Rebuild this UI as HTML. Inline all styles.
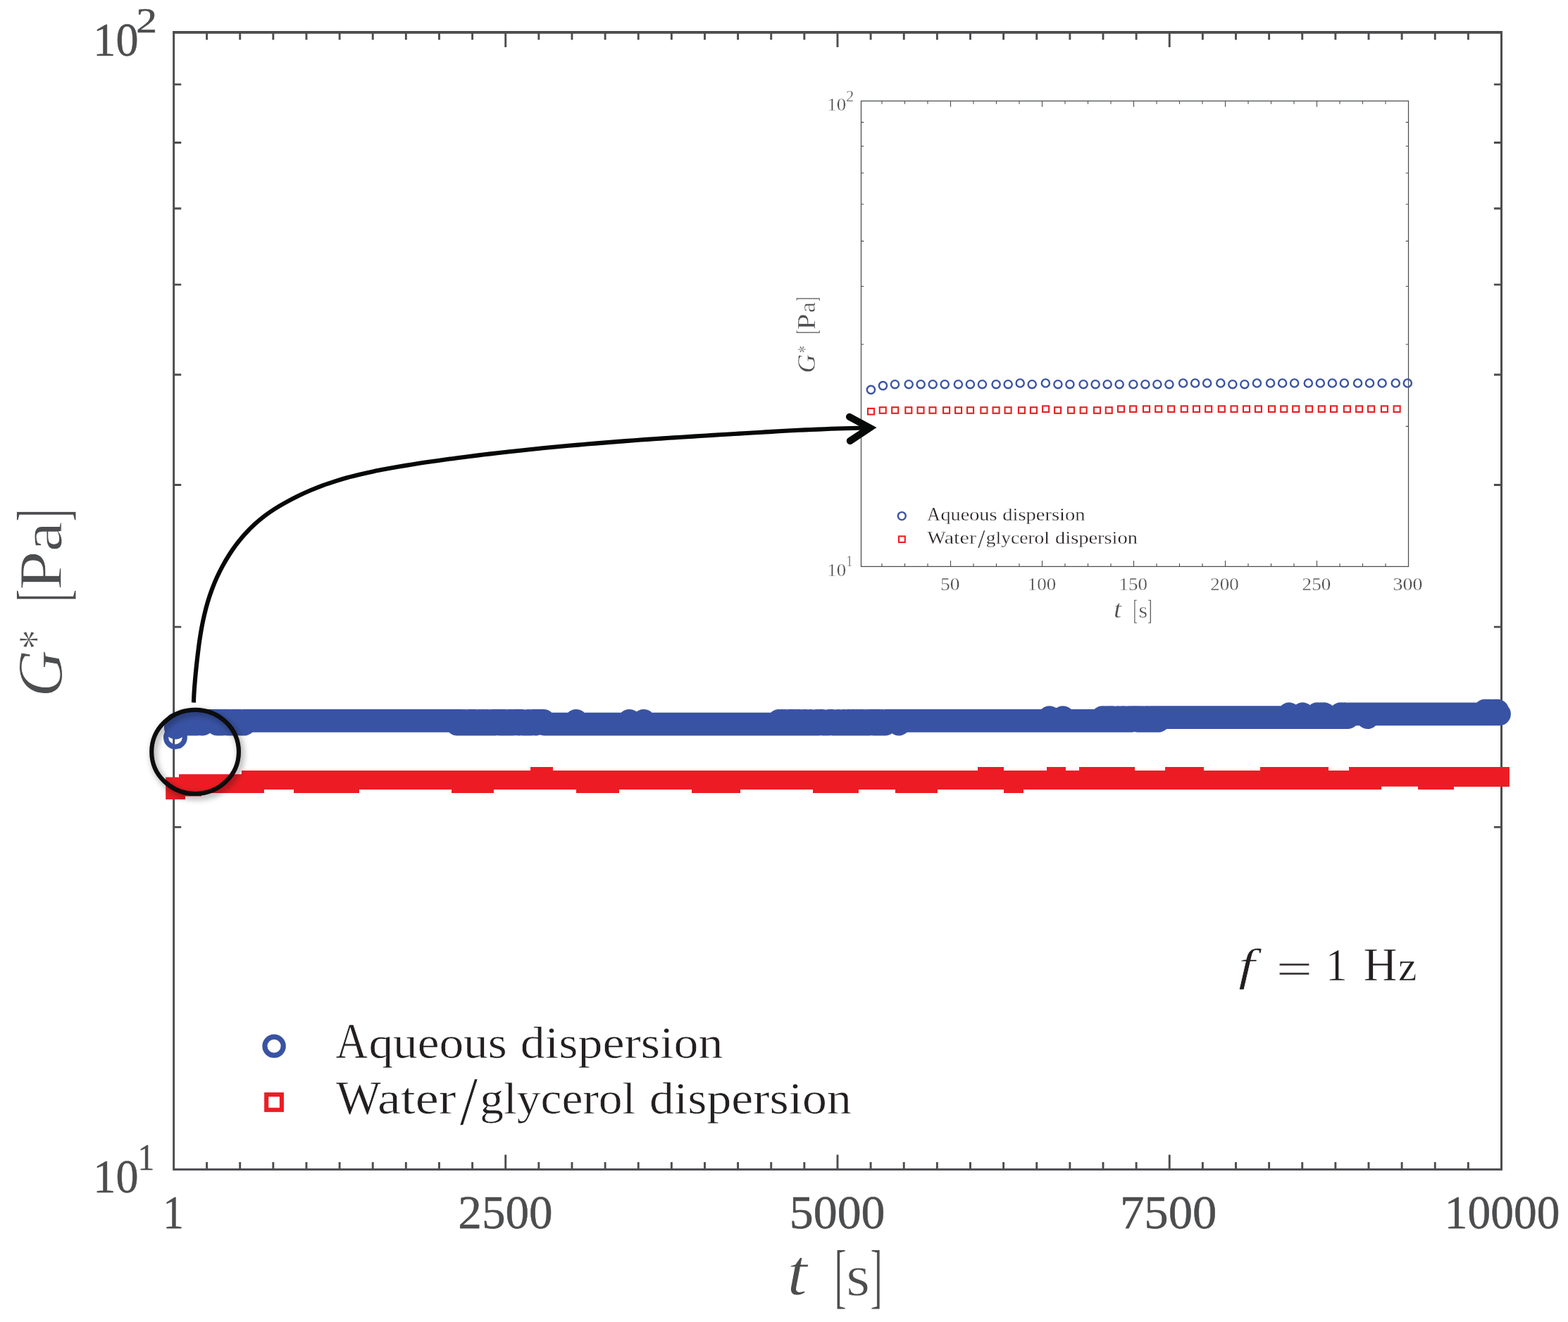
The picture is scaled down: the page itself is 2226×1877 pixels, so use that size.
<!DOCTYPE html>
<html lang="en">
<head>
<meta charset="utf-8">
<title>G* vs t</title>
<style>
html,body{margin:0;padding:0;background:#fff;}
body{width:2226px;height:1877px;overflow:hidden;}
svg{display:block;}
svg text{font-family:"Liberation Serif","DejaVu Serif",serif;font-kerning:none;font-variant-ligatures:none;white-space:pre;}
</style>
</head>
<body>
<svg width="2226" height="1877" viewBox="0 0 2226 1877">
<defs>
<filter id="sh" x="-30%" y="-30%" width="160%" height="160%">
<feGaussianBlur in="SourceAlpha" stdDeviation="5"/>
<feOffset dx="2.5" dy="3.5" result="b"/>
<feComponentTransfer><feFuncA type="linear" slope="0.43"/></feComponentTransfer>
<feMerge><feMergeNode/><feMergeNode in="SourceGraphic"/></feMerge>
</filter>
</defs>
<rect width="2226" height="1877" fill="#fff"/>
<g id="main-axes" fill="none" stroke="#4c4d4f" stroke-width="3">
<path stroke-width="2.9" d="M293.59 1660.4v-10.4M293.59 46v10.4M340.71 1660.4v-10.4M340.71 46v10.4M387.84 1660.4v-10.4M387.84 46v10.4M434.97 1660.4v-10.4M434.97 46v10.4M482.09 1660.4v-10.4M482.09 46v10.4M529.22 1660.4v-10.4M529.22 46v10.4M576.34 1660.4v-10.4M576.34 46v10.4M623.47 1660.4v-10.4M623.47 46v10.4M670.6 1660.4v-10.4M670.6 46v10.4M717.72 1660.4v-21M717.72 46v21M764.85 1660.4v-10.4M764.85 46v10.4M811.97 1660.4v-10.4M811.97 46v10.4M859.1 1660.4v-10.4M859.1 46v10.4M906.22 1660.4v-10.4M906.22 46v10.4M953.35 1660.4v-10.4M953.35 46v10.4M1000.48 1660.4v-10.4M1000.48 46v10.4M1047.6 1660.4v-10.4M1047.6 46v10.4M1094.73 1660.4v-10.4M1094.73 46v10.4M1141.85 1660.4v-10.4M1141.85 46v10.4M1188.98 1660.4v-21M1188.98 46v21M1236.11 1660.4v-10.4M1236.11 46v10.4M1283.23 1660.4v-10.4M1283.23 46v10.4M1330.36 1660.4v-10.4M1330.36 46v10.4M1377.48 1660.4v-10.4M1377.48 46v10.4M1424.61 1660.4v-10.4M1424.61 46v10.4M1471.74 1660.4v-10.4M1471.74 46v10.4M1518.86 1660.4v-10.4M1518.86 46v10.4M1565.99 1660.4v-10.4M1565.99 46v10.4M1613.11 1660.4v-10.4M1613.11 46v10.4M1660.24 1660.4v-21M1660.24 46v21M1707.37 1660.4v-10.4M1707.37 46v10.4M1754.49 1660.4v-10.4M1754.49 46v10.4M1801.62 1660.4v-10.4M1801.62 46v10.4M1848.74 1660.4v-10.4M1848.74 46v10.4M1895.87 1660.4v-10.4M1895.87 46v10.4M1943 1660.4v-10.4M1943 46v10.4M1990.12 1660.4v-10.4M1990.12 46v10.4M2037.25 1660.4v-10.4M2037.25 46v10.4M2084.37 1660.4v-10.4M2084.37 46v10.4M246.65 1174.42h10.6M2131.5 1174.42h-10.6M246.65 890.14h10.6M2131.5 890.14h-10.6M246.65 688.43h10.6M2131.5 688.43h-10.6M246.65 531.98h10.6M2131.5 531.98h-10.6M246.65 404.15h10.6M2131.5 404.15h-10.6M246.65 296.07h10.6M2131.5 296.07h-10.6M246.65 202.45h10.6M2131.5 202.45h-10.6M246.65 119.87h10.6M2131.5 119.87h-10.6"/>
<rect x="246.65" y="46" width="1884.85" height="1614.4"/>
<path stroke-width="3.8" d="M245.15 45.95H2133"/>
</g>
<g id="main-ticklabels">
<text stroke="#4c4d4f" stroke-width="0.5"><tspan x="231.46" y="1744" font-size="68.6" fill="#4c4d4f" textLength="29.26" lengthAdjust="spacingAndGlyphs">1</tspan></text>
<text stroke="#4c4d4f" stroke-width="0.5"><tspan x="650.35" y="1744" font-size="68.6" fill="#4c4d4f" textLength="134.31" lengthAdjust="spacingAndGlyphs">2500</tspan></text>
<text stroke="#4c4d4f" stroke-width="0.5"><tspan x="1120.75" y="1744" font-size="68.6" fill="#4c4d4f" textLength="135.83" lengthAdjust="spacingAndGlyphs">5000</tspan></text>
<text stroke="#4c4d4f" stroke-width="0.5"><tspan x="1589.97" y="1744" font-size="68.6" fill="#4c4d4f" textLength="137.45" lengthAdjust="spacingAndGlyphs">7500</tspan></text>
<text stroke="#4c4d4f" stroke-width="0.5"><tspan x="2050.85" y="1744" font-size="68.6" fill="#4c4d4f" textLength="163.65" lengthAdjust="spacingAndGlyphs">10000</tspan></text>
<text stroke="#4c4d4f" stroke-width="0.5"><tspan x="132.36" y="78.8" font-size="68.6" fill="#4c4d4f" textLength="64.19" lengthAdjust="spacingAndGlyphs">10</tspan><tspan x="193.38" y="45.8" font-size="51.2" fill="#4c4d4f" textLength="29.81" lengthAdjust="spacingAndGlyphs">2</tspan></text>
<text stroke="#4c4d4f" stroke-width="0.5"><tspan x="132.36" y="1693" font-size="68.6" fill="#4c4d4f" textLength="64.19" lengthAdjust="spacingAndGlyphs">10</tspan><tspan x="195.71" y="1661.1" font-size="51.81" fill="#4c4d4f" textLength="23.29" lengthAdjust="spacingAndGlyphs">1</tspan></text>
</g>
<g id="main-axislabels">
<text stroke="#fff" stroke-width="0.9"><tspan x="1117.62" y="1837.98" font-size="94.11" font-style="italic" fill="#4c4d4f" textLength="28.34" lengthAdjust="spacingAndGlyphs">t</tspan> <tspan x="1184.17" y="1845.34" font-size="101.37" fill="#4c4d4f" textLength="17.65" lengthAdjust="spacingAndGlyphs">[</tspan><tspan x="1201.34" y="1838.5" font-size="81.71" fill="#4c4d4f" textLength="33.8" lengthAdjust="spacingAndGlyphs">s</tspan><tspan x="1235.29" y="1845.34" font-size="101.37" fill="#4c4d4f" textLength="17.65" lengthAdjust="spacingAndGlyphs">]</tspan></text>
<text transform="translate(88,989.8) rotate(-90)" stroke="#fff" stroke-width="0.9"><tspan x="0" y="0" font-size="90.92" font-style="italic" fill="#4c4d4f" textLength="66.79" lengthAdjust="spacingAndGlyphs">G</tspan><tspan x="67.78" y="-13.65" font-size="70.63" fill="#4c4d4f" textLength="27.89" lengthAdjust="spacingAndGlyphs">*</tspan> <tspan x="135" y="6.27" font-size="101.13" fill="#4c4d4f" textLength="17.95" lengthAdjust="spacingAndGlyphs">[</tspan><tspan x="151.91" y="-1" font-size="86.75" fill="#4c4d4f" textLength="55.81" lengthAdjust="spacingAndGlyphs">P</tspan><tspan x="206.44" y="-0.89" font-size="80.79" fill="#4c4d4f" textLength="42.47" lengthAdjust="spacingAndGlyphs">a</tspan><tspan x="249.19" y="6.27" font-size="101.13" fill="#4c4d4f" textLength="17.65" lengthAdjust="spacingAndGlyphs">]</tspan></text>
</g>
<g id="inset-axes" fill="none" stroke="#4c4d4f" stroke-width="1.25">
<path stroke-width="1.1" d="M1252 804.4v-4.4M1252 143.4v4.4M1284.5 804.4v-4.4M1284.5 143.4v4.4M1317 804.4v-4.4M1317 143.4v4.4M1349.5 804.4v-8.4M1349.5 143.4v8.4M1382 804.4v-4.4M1382 143.4v4.4M1414.5 804.4v-4.4M1414.5 143.4v4.4M1447 804.4v-4.4M1447 143.4v4.4M1479.5 804.4v-8.4M1479.5 143.4v8.4M1512 804.4v-4.4M1512 143.4v4.4M1544.5 804.4v-4.4M1544.5 143.4v4.4M1577 804.4v-4.4M1577 143.4v4.4M1609.5 804.4v-8.4M1609.5 143.4v8.4M1642 804.4v-4.4M1642 143.4v4.4M1674.5 804.4v-4.4M1674.5 143.4v4.4M1707 804.4v-4.4M1707 143.4v4.4M1739.5 804.4v-8.4M1739.5 143.4v8.4M1772 804.4v-4.4M1772 143.4v4.4M1804.5 804.4v-4.4M1804.5 143.4v4.4M1837 804.4v-4.4M1837 143.4v4.4M1869.5 804.4v-8.4M1869.5 143.4v8.4M1902 804.4v-4.4M1902 143.4v4.4M1934.5 804.4v-4.4M1934.5 143.4v4.4M1967 804.4v-4.4M1967 143.4v4.4M1222.5 605.42h3.8M1999.5 605.42h-3.8M1222.5 489.02h3.8M1999.5 489.02h-3.8M1222.5 406.44h3.8M1999.5 406.44h-3.8M1222.5 342.38h3.8M1999.5 342.38h-3.8M1222.5 290.04h3.8M1999.5 290.04h-3.8M1222.5 245.79h3.8M1999.5 245.79h-3.8M1222.5 207.46h3.8M1999.5 207.46h-3.8M1222.5 173.65h3.8M1999.5 173.65h-3.8"/>
<rect x="1222.5" y="143.4" width="777" height="661"/>
</g>
<g id="inset-labels">
<text stroke="#fff" stroke-width="0.3"><tspan x="1335" y="838.1" font-size="26" fill="#4c4d4f" textLength="27.55" lengthAdjust="spacingAndGlyphs">50</tspan></text>
<text stroke="#fff" stroke-width="0.3"><tspan x="1458.83" y="838.1" font-size="26" fill="#4c4d4f" textLength="40.39" lengthAdjust="spacingAndGlyphs">100</tspan></text>
<text stroke="#fff" stroke-width="0.3"><tspan x="1588.63" y="838.1" font-size="26" fill="#4c4d4f" textLength="40.39" lengthAdjust="spacingAndGlyphs">150</tspan></text>
<text stroke="#fff" stroke-width="0.3"><tspan x="1718.32" y="838.1" font-size="26" fill="#4c4d4f" textLength="40.41" lengthAdjust="spacingAndGlyphs">200</tspan></text>
<text stroke="#fff" stroke-width="0.3"><tspan x="1848.61" y="838.1" font-size="26" fill="#4c4d4f" textLength="40.62" lengthAdjust="spacingAndGlyphs">250</tspan></text>
<text stroke="#fff" stroke-width="0.3"><tspan x="1977.46" y="838.1" font-size="26" fill="#4c4d4f" textLength="41.9" lengthAdjust="spacingAndGlyphs">300</tspan></text>
<text stroke="#fff" stroke-width="0.3"><tspan x="1174.34" y="156.8" font-size="25" fill="#4c4d4f" textLength="26.89" lengthAdjust="spacingAndGlyphs">10</tspan><tspan x="1201.11" y="143.9" font-size="22.65" fill="#4c4d4f" textLength="11.23" lengthAdjust="spacingAndGlyphs">2</tspan></text>
<text stroke="#fff" stroke-width="0.3"><tspan x="1174.34" y="818" font-size="25" fill="#4c4d4f" textLength="26.89" lengthAdjust="spacingAndGlyphs">10</tspan><tspan x="1201.45" y="804.2" font-size="23.02" fill="#4c4d4f" textLength="8.81" lengthAdjust="spacingAndGlyphs">1</tspan></text>
<text stroke="#fff" stroke-width="0.4"><tspan x="1581.13" y="876.54" font-size="36.49" font-style="italic" fill="#4c4d4f" textLength="11.16" lengthAdjust="spacingAndGlyphs">t</tspan> <tspan x="1608.63" y="879.58" font-size="39.75" fill="#4c4d4f" textLength="6.13" lengthAdjust="spacingAndGlyphs">[</tspan><tspan x="1616.57" y="876.5" font-size="30.98" fill="#4c4d4f" textLength="12.6" lengthAdjust="spacingAndGlyphs">s</tspan><tspan x="1629.33" y="879.58" font-size="39.75" fill="#4c4d4f" textLength="6.13" lengthAdjust="spacingAndGlyphs">]</tspan></text>
<text transform="translate(1156.89,529.84) rotate(-90)" stroke="#fff" stroke-width="0.4"><tspan x="0" y="0" font-size="35.18" font-style="italic" fill="#4c4d4f" textLength="26.74" lengthAdjust="spacingAndGlyphs">G</tspan><tspan x="28.63" y="-5.33" font-size="29.72" fill="#4c4d4f" textLength="10.41" lengthAdjust="spacingAndGlyphs">*</tspan> <tspan x="55.51" y="2.59" font-size="39.75" fill="#4c4d4f" textLength="5.98" lengthAdjust="spacingAndGlyphs">[</tspan><tspan x="61.66" y="0.01" font-size="34.82" fill="#4c4d4f" textLength="22.83" lengthAdjust="spacingAndGlyphs">P</tspan><tspan x="85.83" y="0.1" font-size="31.73" fill="#4c4d4f" textLength="15.28" lengthAdjust="spacingAndGlyphs">a</tspan><tspan x="102.19" y="2.59" font-size="39.75" fill="#4c4d4f" textLength="5.98" lengthAdjust="spacingAndGlyphs">]</tspan></text>
</g>
<g id="inset-data" fill="none" stroke-width="2.4">
<g stroke="#3953a4">
<circle cx="1236.43" cy="553.4" r="5.6"/>
<circle cx="1253.46" cy="547.6" r="5.6"/>
<circle cx="1270.48" cy="545.7" r="5.6"/>
<circle cx="1290.17" cy="545.7" r="5.6"/>
<circle cx="1307.19" cy="545.7" r="5.6"/>
<circle cx="1324.22" cy="545.7" r="5.6"/>
<circle cx="1341.24" cy="545.7" r="5.6"/>
<circle cx="1360.39" cy="545.7" r="5.6"/>
<circle cx="1377.42" cy="545.7" r="5.6"/>
<circle cx="1394.44" cy="545.7" r="5.6"/>
<circle cx="1414.13" cy="545.7" r="5.6"/>
<circle cx="1431.15" cy="545.7" r="5.6"/>
<circle cx="1448.18" cy="544" r="5.6"/>
<circle cx="1465.2" cy="545.7" r="5.6"/>
<circle cx="1484.36" cy="544" r="5.6"/>
<circle cx="1501.91" cy="545.7" r="5.6"/>
<circle cx="1518.94" cy="545.7" r="5.6"/>
<circle cx="1538.09" cy="545.7" r="5.6"/>
<circle cx="1555.12" cy="545.7" r="5.6"/>
<circle cx="1572.14" cy="545.7" r="5.6"/>
<circle cx="1589.17" cy="545.7" r="5.6"/>
<circle cx="1608.85" cy="545.7" r="5.6"/>
<circle cx="1625.88" cy="545.7" r="5.6"/>
<circle cx="1642.9" cy="545.7" r="5.6"/>
<circle cx="1659.92" cy="545.7" r="5.6"/>
<circle cx="1679.61" cy="544" r="5.6"/>
<circle cx="1696.63" cy="544" r="5.6"/>
<circle cx="1713.66" cy="544" r="5.6"/>
<circle cx="1732.81" cy="544" r="5.6"/>
<circle cx="1749.84" cy="545.7" r="5.6"/>
<circle cx="1766.86" cy="545.7" r="5.6"/>
<circle cx="1784.42" cy="544" r="5.6"/>
<circle cx="1803.57" cy="544" r="5.6"/>
<circle cx="1820.6" cy="544" r="5.6"/>
<circle cx="1837.62" cy="544" r="5.6"/>
<circle cx="1857.31" cy="544" r="5.6"/>
<circle cx="1874.33" cy="544" r="5.6"/>
<circle cx="1891.36" cy="544" r="5.6"/>
<circle cx="1908.38" cy="544" r="5.6"/>
<circle cx="1927.54" cy="544" r="5.6"/>
<circle cx="1944.56" cy="544" r="5.6"/>
<circle cx="1962.12" cy="544" r="5.6"/>
<circle cx="1981.27" cy="544" r="5.6"/>
<circle cx="1998.29" cy="544" r="5.6"/>
<circle cx="1280.3" cy="732.6" r="5.5"/>
</g>
<g stroke="#ed1c24" stroke-width="2.1">
<rect x="1232.02" y="579.9" width="9" height="8.6"/>
<rect x="1248.75" y="578.2" width="9" height="8.6"/>
<rect x="1266.2" y="578.2" width="9" height="8.6"/>
<rect x="1285.32" y="578.2" width="9" height="8.6"/>
<rect x="1302.53" y="578.2" width="9" height="8.6"/>
<rect x="1319.5" y="578.2" width="9" height="8.6"/>
<rect x="1339.09" y="578.2" width="9" height="8.6"/>
<rect x="1356.06" y="578.2" width="9" height="8.6"/>
<rect x="1373.03" y="578.2" width="9" height="8.6"/>
<rect x="1392.39" y="578.2" width="9" height="8.6"/>
<rect x="1409.6" y="578.2" width="9" height="8.6"/>
<rect x="1426.57" y="578.2" width="9" height="8.6"/>
<rect x="1445.93" y="578.2" width="9" height="8.6"/>
<rect x="1462.9" y="578.2" width="9" height="8.6"/>
<rect x="1480.11" y="576.4" width="9" height="8.6"/>
<rect x="1497.08" y="578.2" width="9" height="8.6"/>
<rect x="1515.96" y="578.2" width="9" height="8.6"/>
<rect x="1533.65" y="578.2" width="9" height="8.6"/>
<rect x="1553" y="578.2" width="9" height="8.6"/>
<rect x="1569.74" y="578.2" width="9" height="8.6"/>
<rect x="1586.94" y="576.4" width="9" height="8.6"/>
<rect x="1604.15" y="576.4" width="9" height="8.6"/>
<rect x="1622.99" y="576.4" width="9" height="8.6"/>
<rect x="1640.24" y="576.4" width="9" height="8.6"/>
<rect x="1658.12" y="576.4" width="9" height="8.6"/>
<rect x="1676.76" y="576.4" width="9" height="8.6"/>
<rect x="1693.97" y="576.4" width="9" height="8.6"/>
<rect x="1711.18" y="576.4" width="9" height="8.6"/>
<rect x="1729.82" y="576.4" width="9" height="8.6"/>
<rect x="1747.51" y="576.4" width="9" height="8.6"/>
<rect x="1764.96" y="576.4" width="9" height="8.6"/>
<rect x="1781.92" y="576.4" width="9" height="8.6"/>
<rect x="1801.04" y="576.4" width="9" height="8.6"/>
<rect x="1818.25" y="576.4" width="9" height="8.6"/>
<rect x="1835.22" y="576.4" width="9" height="8.6"/>
<rect x="1854.1" y="576.4" width="9" height="8.6"/>
<rect x="1871.79" y="576.4" width="9" height="8.6"/>
<rect x="1889" y="576.4" width="9" height="8.6"/>
<rect x="1907.88" y="576.4" width="9" height="8.6"/>
<rect x="1925.09" y="576.4" width="9" height="8.6"/>
<rect x="1942.06" y="576.4" width="9" height="8.6"/>
<rect x="1960.94" y="576.4" width="9" height="8.6"/>
<rect x="1978.63" y="576.4" width="9" height="8.6"/>
<rect x="1276.0" y="761.4" width="8.8" height="8.6"/>
</g></g>
<g id="inset-legend">
<text stroke="#fff" stroke-width="0.3"><tspan x="1316.35" y="738.8" font-size="27.99" fill="#231f20" textLength="18.54" lengthAdjust="spacingAndGlyphs">A</tspan><tspan x="1335.47" y="738.8" font-size="26" fill="#231f20" textLength="80.03" lengthAdjust="spacingAndGlyphs">queous</tspan> <tspan x="1423.32" y="738.8" font-size="26" fill="#231f20" textLength="117.21" lengthAdjust="spacingAndGlyphs">dispersion</tspan></text>
<text stroke="#fff" stroke-width="0.3"><tspan x="1316.57" y="772.11" font-size="26.05" fill="#231f20" textLength="26.09" lengthAdjust="spacingAndGlyphs">W</tspan><tspan x="1340.65" y="772.1" font-size="26" fill="#231f20" textLength="45.4" lengthAdjust="spacingAndGlyphs">ater</tspan><tspan x="1388.31" y="778.17" font-size="38.06" fill="#231f20" textLength="10.23" lengthAdjust="spacingAndGlyphs">/</tspan><tspan x="1399.85" y="772.1" font-size="26" fill="#231f20" textLength="90.12" lengthAdjust="spacingAndGlyphs">glycerol</tspan> <tspan x="1498.02" y="772.1" font-size="26" fill="#231f20" textLength="116.92" lengthAdjust="spacingAndGlyphs">dispersion</tspan></text>
</g>
<g id="main-data">
<circle cx="248.95" cy="1046.9" r="13.35" fill="none" stroke="#3953a4" stroke-width="7.2"/>
<path fill="none" stroke="#3953a4" stroke-width="32.8" stroke-linecap="round" stroke-linejoin="round" d="M249.3 1033.2L250.3 1028.1L263.33 1028.1L264.56 1023.35L265.8 1028.1L267.18 1023.35L268.46 1028.1L279.92 1028.1L281.35 1023.35L285.21 1023.35L286.44 1028.1L287.68 1028.1L288.95 1023.35L307.03 1023.35L308.31 1028.1L309.59 1023.35L310.87 1028.1L312.15 1023.35L313.43 1023.35L314.71 1028.1L315.99 1023.35L321.11 1023.35L322.39 1028.1L323.67 1023.35L324.95 1023.35L326.23 1028.1L328.79 1028.1L330.07 1023.35L331.35 1028.1L332.63 1023.35L333.91 1028.1L335.19 1023.35L339.03 1023.35L340.31 1028.1L341.59 1023.35L342.87 1028.1L344.15 1028.1L345.43 1023.35L346.71 1028.1L347.99 1023.35L647.51 1023.35L648.79 1028.1L650.07 1023.35L651.35 1023.35L652.63 1028.1L653.91 1023.35L655.19 1023.35L656.47 1028.1L657.75 1028.1L659.03 1023.35L660.31 1028.1L664.15 1028.1L665.43 1023.35L666.71 1028.1L667.99 1023.35L669.27 1023.35L670.55 1028.1L671.83 1023.35L674.39 1023.35L675.67 1028.1L679.51 1028.1L680.79 1023.35L682.07 1028.1L684.63 1028.1L685.91 1023.35L687.19 1028.1L688.47 1028.1L689.75 1023.35L691.03 1028.1L692.31 1023.35L693.59 1028.1L697.43 1028.1L698.71 1023.35L699.99 1023.35L701.27 1028.1L702.55 1023.35L707.67 1023.35L708.95 1028.1L710.23 1023.35L712.79 1023.35L714.07 1028.1L715.35 1023.35L716.63 1023.35L717.91 1028.1L721.75 1028.1L723.03 1023.35L725.59 1023.35L726.87 1028.1L728.15 1028.1L729.43 1023.35L734.55 1023.35L735.83 1028.1L737.11 1023.35L740.95 1023.35L742.23 1028.1L748.63 1028.1L749.91 1023.35L751.19 1028.1L755.03 1028.1L756.31 1023.35L758.87 1023.35L760.15 1028.1L761.43 1023.35L771.67 1023.35L772.95 1028.1L816.47 1028.1L817.75 1023.35L819.03 1028.1L891.99 1028.1L893.27 1023.35L894.55 1028.1L912.47 1028.1L913.75 1023.35L915.03 1028.1L1104.47 1028.1L1105.75 1023.35L1107.03 1028.1L1108.31 1028.1L1109.59 1023.35L1110.87 1023.35L1112.15 1028.1L1113.43 1028.1L1114.71 1023.35L1115.99 1028.1L1119.83 1028.1L1121.11 1023.35L1122.39 1023.35L1123.67 1028.1L1124.95 1023.35L1126.23 1028.1L1127.51 1023.35L1128.79 1023.35L1130.07 1028.1L1131.35 1028.1L1132.63 1023.35L1133.91 1028.1L1135.19 1023.35L1136.47 1028.1L1140.31 1028.1L1141.59 1023.35L1142.87 1028.1L1144.15 1023.35L1145.43 1028.1L1149.27 1028.1L1150.55 1023.35L1151.83 1028.1L1158.23 1028.1L1159.51 1023.35L1160.79 1028.1L1162.07 1028.1L1163.35 1023.35L1167.19 1023.35L1168.47 1028.1L1176.15 1028.1L1177.43 1023.35L1181.27 1023.35L1182.55 1028.1L1188.95 1028.1L1190.23 1023.35L1191.51 1028.1L1196.63 1028.1L1197.91 1023.35L1199.19 1028.1L1203.03 1028.1L1204.31 1023.35L1205.59 1023.35L1206.87 1028.1L1208.15 1028.1L1209.43 1023.35L1211.99 1023.35L1213.27 1028.1L1214.55 1028.1L1215.83 1023.35L1217.11 1028.1L1219.67 1028.1L1220.95 1023.35L1222.23 1028.1L1223.51 1023.35L1224.79 1023.35L1226.07 1028.1L1229.91 1028.1L1231.19 1023.35L1232.47 1028.1L1233.75 1028.1L1235.03 1023.35L1238.87 1023.35L1240.15 1028.1L1241.43 1023.35L1243.99 1023.35L1245.27 1028.1L1246.55 1023.35L1247.83 1023.35L1249.11 1028.1L1250.39 1028.1L1251.67 1023.35L1252.95 1028.1L1256.79 1028.1L1258.07 1023.35L1274.71 1023.35L1275.99 1028.1L1277.27 1023.35L1488.47 1023.35L1489.75 1018.6L1491.03 1023.35L1507.67 1023.35L1508.95 1018.6L1510.23 1023.35L1563.99 1023.35L1565.27 1018.6L1566.55 1018.6L1567.83 1023.35L1569.11 1023.35L1570.39 1018.6L1571.67 1023.35L1574.23 1023.35L1575.51 1018.6L1576.79 1023.35L1578.07 1018.6L1579.35 1018.6L1580.63 1023.35L1585.75 1023.35L1587.03 1018.6L1588.31 1023.35L1592.15 1023.35L1593.43 1018.6L1594.71 1023.35L1595.99 1018.6L1597.27 1023.35L1601.11 1023.35L1602.39 1018.6L1603.67 1023.35L1606.23 1023.35L1607.51 1018.6L1613.91 1018.6L1615.19 1023.35L1617.75 1023.35L1619.03 1018.6L1620.31 1023.35L1621.59 1023.35L1622.87 1018.6L1624.15 1023.35L1625.43 1023.35L1626.71 1018.6L1627.99 1023.35L1629.27 1018.6L1630.55 1018.6L1631.83 1023.35L1633.11 1023.35L1634.39 1018.6L1635.67 1018.6L1636.95 1023.35L1638.23 1018.6L1640.79 1018.6L1642.07 1023.35L1643.35 1018.6L1644.63 1023.35L1645.91 1018.6L1828.95 1018.6L1830.23 1013.8L1831.51 1018.6L1848.15 1018.6L1849.43 1013.8L1850.71 1018.6L1868.63 1018.6L1869.91 1013.8L1871.19 1018.6L1873.75 1018.6L1875.03 1013.8L1876.31 1018.6L1878.87 1018.6L1880.15 1013.8L1881.43 1018.6L1901.91 1018.6L1903.19 1013.8L1904.47 1018.6L1905.75 1013.8L1907.03 1018.6L1908.31 1018.6L1909.59 1013.8L1910.87 1018.6L1913.43 1018.6L1914.71 1013.8L1940.31 1013.8L1941.59 1018.6L1942.87 1013.8L2106.71 1013.8L2107.99 1009.2L2110.55 1009.2L2111.83 1013.8L2113.11 1013.8L2114.39 1009.2L2115.67 1009.2L2116.95 1013.8L2119.51 1013.8L2120.79 1009.2L2122.07 1009.2L2123.35 1013.8L2124.63 1009.2L2125.91 1009.2L2127.19 1013.8L2128.47 1013.8"/>
<path fill="#ed1c24" d="M235.2 1103.4H254V1099.3H343V1094H753V1089H785V1094H1388V1089H1425V1094H1486V1089H1513V1094H1532V1089H1611V1094H1654V1089H1709V1094H1789V1089H1886V1094H1915V1089.1H2142.9V1116.9H2064V1121H2013V1116.8H1961V1121H1453V1125.9H1425V1121H1331V1125.9H1271V1121H1219V1125.9H1154V1121H1051V1125.9H982V1121H879V1125.9H818V1121H701V1125.9H641V1121H510V1125.9H417V1121H375V1125.9H286V1130.5H263V1134.9H235.2Z"/>
</g>
<g id="main-legend">
<circle cx="389.1" cy="1485.3" r="13.15" fill="none" stroke="#3953a4" stroke-width="7.2"/>
<rect x="378.2" y="1554.1" width="21.7" height="21.7" fill="none" stroke="#ed1c24" stroke-width="6.1"/>
<text stroke="#fff" stroke-width="0.6"><tspan x="476.49" y="1501.8" font-size="72.26" fill="#231f20" textLength="45.48" lengthAdjust="spacingAndGlyphs">A</tspan><tspan x="523.4" y="1501.8" font-size="64" fill="#231f20" textLength="196.31" lengthAdjust="spacingAndGlyphs">queous</tspan> <tspan x="738.87" y="1501.8" font-size="64" fill="#231f20" textLength="287.49" lengthAdjust="spacingAndGlyphs">dispersion</tspan></text>
<text stroke="#fff" stroke-width="0.6"><tspan x="477.03" y="1581.18" font-size="67.17" fill="#231f20" textLength="64" lengthAdjust="spacingAndGlyphs">W</tspan><tspan x="536.09" y="1581.2" font-size="64" fill="#231f20" textLength="111.37" lengthAdjust="spacingAndGlyphs">ater</tspan><tspan x="653" y="1596.05" font-size="97.02" fill="#231f20" textLength="25.1" lengthAdjust="spacingAndGlyphs">/</tspan><tspan x="681.3" y="1581.2" font-size="64" fill="#231f20" textLength="221.05" lengthAdjust="spacingAndGlyphs">glycerol</tspan> <tspan x="922.08" y="1581.2" font-size="64" fill="#231f20" textLength="286.78" lengthAdjust="spacingAndGlyphs">dispersion</tspan></text>
<text stroke="#fff" stroke-width="0.6"><tspan x="1758.16" y="1391" font-size="63.9" font-style="italic" fill="#231f20" textLength="23.36" lengthAdjust="spacingAndGlyphs">f</tspan> <tspan x="1811.52" y="1396.97" font-size="63.6" fill="#231f20" textLength="51.87" lengthAdjust="spacingAndGlyphs">=</tspan> <tspan x="1881.63" y="1391.6" font-size="64.83" fill="#231f20" textLength="31.1" lengthAdjust="spacingAndGlyphs">1</tspan> <tspan x="1935.38" y="1391.6" font-size="66.59" fill="#231f20" textLength="48.18" lengthAdjust="spacingAndGlyphs">H</tspan><tspan x="1985.1" y="1391.6" font-size="59.26" fill="#231f20" textLength="26.46" lengthAdjust="spacingAndGlyphs">z</tspan></text>
</g>
<g id="annotation" fill="none" stroke="#070808">
<ellipse cx="277.1" cy="1067.4" rx="61.85" ry="59.55" stroke-width="6.1" filter="url(#sh)"/>
<path stroke-width="6.1" stroke-linejoin="round" d="M274.9 997.5C275 995.3 275.17 989.6 275.5 984.3C275.83 979 276.37 971.9 276.9 965.7C277.43 959.5 278.05 953.28 278.7 947.1C279.35 940.92 280.05 934.77 280.8 928.6C281.55 922.43 282.3 916.27 283.2 910.1C284.1 903.93 285.07 897.72 286.2 891.6C287.33 885.48 288.58 879.45 290 873.4C291.42 867.35 292.93 861.27 294.7 855.3C296.47 849.33 298.43 843.43 300.6 837.6C302.77 831.77 305.13 825.97 307.7 820.3C310.27 814.63 313.03 809.07 316 803.6C318.97 798.13 322.13 792.73 325.5 787.5C328.87 782.27 332.43 777.13 336.2 772.2C339.97 767.27 343.92 762.5 348.1 757.9C352.28 753.3 356.73 748.82 361.3 744.6C365.87 740.38 370.57 736.37 375.5 732.6C380.43 728.83 385.65 725.33 390.9 722C396.15 718.67 401.55 715.6 407 712.6C412.45 709.6 418 706.72 423.6 704C429.2 701.28 434.88 698.75 440.6 696.3C446.32 693.85 452.07 691.47 457.9 689.3C463.73 687.13 469.67 685.18 475.6 683.3C481.53 681.42 487.5 679.63 493.5 678C499.5 676.37 505.55 674.93 511.6 673.5C517.65 672.07 523.7 670.68 529.8 669.4C535.9 668.12 542.08 666.95 548.2 665.8C554.32 664.65 560.37 663.55 566.5 662.5C572.63 661.45 578.85 660.48 585 659.5C591.15 658.52 597.25 657.52 603.4 656.6C609.55 655.68 615.73 654.87 621.9 654C628.07 653.13 634.23 652.23 640.4 651.4C646.57 650.57 652.73 649.8 658.9 649C665.07 648.2 671.22 647.37 677.4 646.6C683.58 645.83 689.82 645.13 696 644.4C702.18 643.67 708.32 642.9 714.5 642.2C720.68 641.5 726.92 640.87 733.1 640.2C739.28 639.53 745.42 638.85 751.6 638.2C757.78 637.55 764 636.92 770.2 636.3C776.4 635.68 782.6 635.08 788.8 634.5C795 633.92 801.2 633.35 807.4 632.8C813.6 632.25 819.8 631.73 826 631.2C832.2 630.67 838.4 630.12 844.6 629.6C850.8 629.08 857 628.6 863.2 628.1C869.4 627.6 875.6 627.08 881.8 626.6C888 626.12 894.18 625.65 900.4 625.2C906.62 624.75 912.88 624.33 919.1 623.9C925.32 623.47 931.5 623.02 937.7 622.6C943.9 622.18 950.1 621.8 956.3 621.4C962.5 621 968.68 620.6 974.9 620.2C981.12 619.8 987.38 619.38 993.6 619C999.82 618.62 1005.98 618.28 1012.2 617.9C1018.42 617.52 1024.68 617.08 1030.9 616.7C1037.12 616.32 1043.3 615.97 1049.5 615.6C1055.7 615.23 1061.88 614.87 1068.1 614.5C1074.32 614.13 1080.58 613.77 1086.8 613.4C1093.02 613.03 1099.18 612.65 1105.4 612.3C1111.62 611.95 1117.88 611.62 1124.1 611.3C1130.32 610.98 1136.48 610.68 1142.7 610.4C1148.92 610.12 1155.18 609.87 1161.4 609.6C1167.62 609.33 1173.78 609.02 1180 608.8C1186.22 608.58 1192.48 608.47 1198.7 608.3C1204.92 608.13 1211.08 607.92 1217.3 607.8C1223.52 607.68 1232.88 607.63 1236 607.6"/>
<path stroke-width="10" stroke-linecap="round" stroke-linejoin="miter" stroke-miterlimit="10" d="M1205.9 591.8L1234.8 607.4L1206.8 626"/>
</g>
</svg>
</body>
</html>
